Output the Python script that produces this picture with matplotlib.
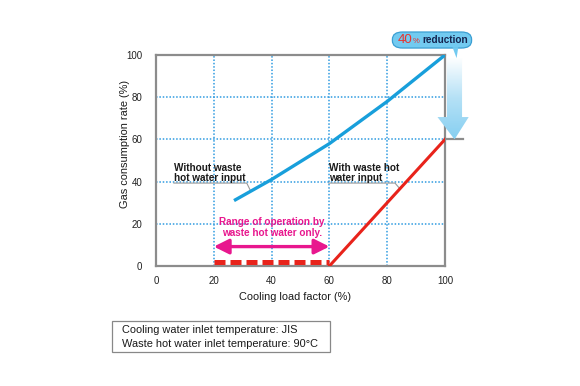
import numpy as np
import matplotlib
matplotlib.use("Agg")
import matplotlib.pyplot as plt
from matplotlib.patches import Polygon, FancyBboxPatch, Rectangle
from matplotlib.colors import LinearSegmentedColormap

plt.rcParams['font.family'] = ['Liberation Sans', 'DejaVu Sans']

# data
without_x = [27, 40, 50, 60, 70, 80, 90, 100]
without_y = [31, 41, 49.5, 58, 68, 78, 89, 100]
with_x = [60, 100]
with_y = [0, 60]
waste_only_x = [20, 60]
waste_only_y = [2, 2]
ticks = [0, 20, 40, 60, 80, 100]
grid_vals = [20, 40, 60, 80]

W, H = 580, 386
fig = plt.figure(figsize=(W/100, H/100), dpi=100)
L, R, T, B = 156, 445, 55, 266
ax = fig.add_axes([L/W, 1-B/H, (R-L)/W, (B-T)/H])

gray = '#8c8c8c'
for s in ax.spines.values():
    s.set_color(gray)
    s.set_linewidth(1.6)

ax.set_xticks(ticks)
ax.set_yticks(ticks)
ax.tick_params(length=0, labelsize=7.0, colors='#222222', pad=7)
ax.tick_params(axis='y', pad=10)

for g in grid_vals:
    ax.axvline(g, color='#2f9be0', lw=1.1, ls=(0, (1, 1.2)), zorder=1)
    ax.axhline(g, color='#2f9be0', lw=1.1, ls=(0, (1, 1.2)), zorder=1)

blue = '#189fdb'
red = '#e8231b'
ax.plot(without_x, without_y, color=blue, lw=2.4, solid_capstyle='butt', zorder=3)
ax.plot(with_x, with_y, color=red, lw=2.2, zorder=3)
ax.plot(waste_only_x, waste_only_y, color=red, lw=3.6, ls=(0, (2.2, 1.0)), zorder=3)

# extended gray tick at 60 on right
ax.plot([100, 106.2], [with_y[-1], with_y[-1]], color=gray, lw=1.6, clip_on=False, zorder=2)

# gradient arrow from 100 to 60
top = without_y[-1] - 1.5
bot = with_y[-1]
poly = [(100.7, top), (105.9, top), (105.9, 70.6), (108.2, 70.6), (103.3, bot),
        (97.4, 70.6), (100.7, 70.6)]
patch = Polygon(poly, closed=True, facecolor='none', edgecolor='none', transform=ax.transData)
ax.add_patch(patch)
patch.set_clip_on(False)
grad = np.linspace(0, 1, 256).reshape(-1, 1)
cmap = LinearSegmentedColormap.from_list('g', ['#ffffff', '#b5e1f6', '#86cff1'])
im = ax.imshow(grad[::-1], extent=[97, 108.5, bot, top], aspect='auto', cmap=cmap,
               origin='lower', zorder=4, interpolation='bilinear')
im.set_clip_on(True)
im.set_clip_box(fig.bbox)
im.set_clip_path(patch)

ax.set_xlim(0, 100)
ax.set_ylim(0, 100)
ax.set_aspect('auto')

# callout box
box = FancyBboxPatch((81.8, 103.3), 27.4, 7.6, boxstyle='round,pad=0,rounding_size=3.5',
                     facecolor='#72caf0', edgecolor='#3b9fd3', lw=0.9, clip_on=False,
                     transform=ax.transData, zorder=5)
ax.add_patch(box)
ptr = Polygon([(102.6, 103.7), (104.6, 103.7), (104.0, 98.5)], closed=True,
              facecolor='#72caf0', edgecolor='none', clip_on=False, zorder=6)
ax.add_patch(ptr)
ax.text(83.6, 107.2, '40', color='#e8322d', fontsize=9.5, va='center', ha='left',
        clip_on=False, zorder=7)
ax.text(88.9, 106.6, '%', color='#e8322d', fontsize=5.5, va='center', ha='left',
        clip_on=False, zorder=7)
ax.text(92.0, 107.1, 'reduction', color='#15244f', fontsize=7.2, fontweight='bold',
        va='center', ha='left', clip_on=False, zorder=7)

# annotations
ax.text(6.2, 44.2, 'Without waste\nhot water input', fontsize=7.2, fontweight='bold',
        color='#1a1a1a', va='center', ha='left', linespacing=1.05, zorder=5)
ax.plot([6.2, 31.4, 32.8], [39.3, 39.3, 35.4], color='#999999', lw=0.8, zorder=2)
ax.text(59.8, 44.2, 'With waste hot\nwater input', fontsize=7.2, fontweight='bold',
        color='#1a1a1a', va='center', ha='left', linespacing=1.05, zorder=5)
ax.plot([59.8, 82.7, 84.4], [39.3, 39.3, 36.6], color='#999999', lw=0.8, zorder=2)

mag = '#e8178e'
ax.text(40, 18.3, 'Range of operation by\nwaste hot water only.', fontsize=7.2,
        fontweight='bold', color=mag, va='center', ha='center', linespacing=1.15, zorder=5)
ax.annotate('', xy=(20, 9.2), xytext=(60, 9.2),
            arrowprops=dict(arrowstyle='<|-|>,head_length=0.9,head_width=0.45',
                            color=mag, lw=2.4, shrinkA=0, shrinkB=0), zorder=5)

# axis labels
fig.text(125/W, 1-144/H, 'Gas consumption rate (%)', rotation=90, fontsize=7.9,
         ha='center', va='center', color='#1a1a1a')
fig.text(295/W, 1-297/H, 'Cooling load factor (%)', fontsize=7.9,
         ha='center', va='center', color='#1a1a1a')

# bottom note box
fig.add_artist(Rectangle((112/W, 1-352/H), (330-112)/W, (352-321)/H,
                         transform=fig.transFigure, facecolor='white',
                         edgecolor='#888888', lw=0.9))
fig.text(122/W, 1-330/H, 'Cooling water inlet temperature: JIS', fontsize=7.9,
         ha='left', va='center', color='#1a1a1a')
fig.text(122/W, 1-344/H, 'Waste hot water inlet temperature: 90\u00b0C', fontsize=7.9,
         ha='left', va='center', color='#1a1a1a')

fig.savefig('out.png', dpi=100)
